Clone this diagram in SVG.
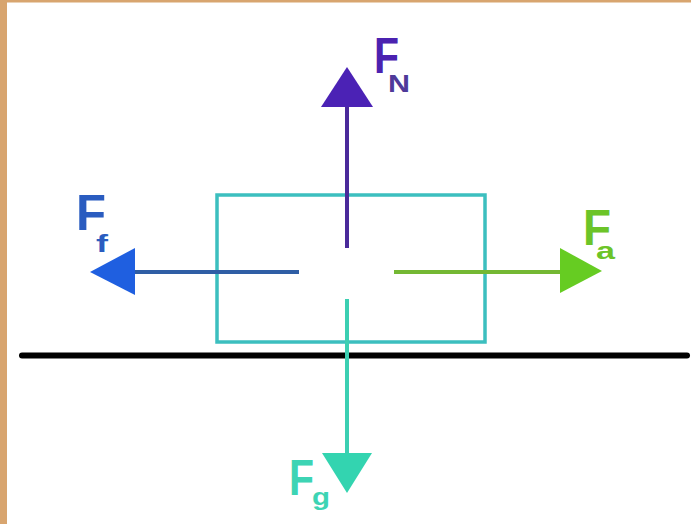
<svg xmlns="http://www.w3.org/2000/svg" width="691" height="524" viewBox="0 0 691 524">
<style>
.lbl{font-family:"Liberation Sans",Arial,sans-serif;font-weight:bold}
.big{font-size:50px}
.sub{font-size:23px}
</style>
<rect width="691" height="524" fill="#ffffff"/>
<rect x="0" y="0" width="691" height="2.5" fill="#d8a56f"/>
<rect x="0" y="0" width="7" height="524" fill="#d8a56f"/>
<g id="ground"><line x1="22" y1="355.5" x2="687" y2="355.5" stroke="#000" stroke-width="6" stroke-linecap="round"/></g>
<g id="block"><rect x="217" y="195" width="268" height="147" fill="none" stroke="#3cbfbf" stroke-width="3.5"/></g>
<g id="connectors">
<line x1="347" y1="248" x2="347" y2="104" stroke="#4a2a9a" stroke-width="4"/>
<polygon points="347,67 373,107 321,107" fill="#4b22b5"/>
<line x1="299" y1="272" x2="132" y2="272" stroke="#2f5ea5" stroke-width="4"/>
<polygon points="90,272 135,248 135,295" fill="#1f5fe0"/>
<line x1="394" y1="272" x2="563" y2="272" stroke="#74b833" stroke-width="4"/>
<polygon points="602,271 560,248 560,293" fill="#66cc22"/>
<line x1="347" y1="299" x2="347" y2="456" stroke="#3ccfb2" stroke-width="4"/>
<polygon points="347,493 322,453 372,453" fill="#33d4b0"/>
</g>
<g id="FN" class="lbl" fill="#4b22b0">
<text class="big" x="374" y="73" textLength="25" lengthAdjust="spacingAndGlyphs">F</text>
<text class="sub" x="388" y="92" textLength="22" lengthAdjust="spacingAndGlyphs" fill="#4f3a99">N</text>
</g>
<g id="Ff" class="lbl" fill="#2a5cc0">
<text class="big" x="76" y="230" textLength="30" lengthAdjust="spacingAndGlyphs">F</text>
<text class="sub" x="96" y="252" textLength="12" lengthAdjust="spacingAndGlyphs">f</text>
</g>
<g id="Fa" class="lbl" fill="#6cc428">
<text class="big" x="583" y="245" textLength="28" lengthAdjust="spacingAndGlyphs">F</text>
<text class="sub" x="596" y="259" textLength="19" lengthAdjust="spacingAndGlyphs">a</text>
</g>
<g id="Fg" class="lbl" fill="#3dd4b4">
<text class="big" x="289" y="495" textLength="25" lengthAdjust="spacingAndGlyphs">F</text>
<text class="sub" x="312" y="505" textLength="18" lengthAdjust="spacingAndGlyphs">g</text>
</g>
</svg>
